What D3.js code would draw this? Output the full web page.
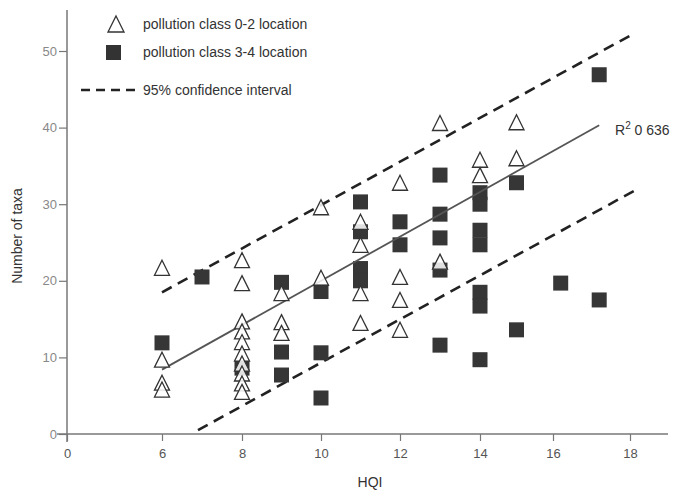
<!DOCTYPE html>
<html><head><meta charset="utf-8">
<script src="https://cdn.jsdelivr.net/npm/d3@7"></script>
<style>body{margin:0;background:#fff}svg{display:block}</style>
</head><body><svg id="c" width="682" height="491"></svg>
<script>
// ---- data ----
const xTicks = [0, 6, 8, 10, 12, 14, 16, 18];
const yTicks = [0, 10, 20, 30, 40, 50];
// pollution class 0-2 (triangles): [HQI, taxa]
const class02 = [
  [6,21.7],[6,9.7],[6,6.7],[6,5.8],
  [8,22.7],[8,19.7],[8,14.7],[8,13.4],[8,12.0],[8,10.5],[8,9.2],[8,7.9],[8,6.6],[8,5.5],
  [9,18.4],[9,14.6],[9,13.2],
  [10,29.6],[10,20.4],
  [11,27.7],[11,24.7],[11,18.4],[11,14.5],
  [12,32.8],[12,20.5],[12,17.5],[12,13.6],
  [13,40.6],[13,22.5],
  [14,35.8],[14,33.8],
  [15,40.7],[15,36.0]
];
// pollution class 3-4 (squares)
const class34 = [
  [6,11.9],[7,20.5],[8,8.6],
  [9,19.8],[9,10.7],[9,7.7],
  [10,18.6],[10,10.6],[10,4.7],
  [11,30.3],[11,26.4],[11,21.6],[11,20.0],
  [12,27.7],[12,24.7],
  [13,33.8],[13,28.7],[13,25.6],[13,21.4],[13,11.6],
  [14,31.5],[14,30.0],[14,26.6],[14,24.7],[14,18.5],[14,16.7],[14,9.7],
  [15,32.8],[15,13.6],
  [16.2,19.7],[17.2,17.5],[17.2,46.9]
];
const regression = [[6,8.4],[17.2,40.3]];
const upperCI = [[6,18.5],[18,52]];
const lowerCI = [[6.9,0.5],[18.2,32]];
const r2Label = "0 636";
const legendItems = ["pollution class 0-2 location","pollution class 3-4 location","95% confidence interval"];

// ---- chart ----
const svg = d3.select("#c");
const font = "Liberation Sans, Arial, Helvetica, sans-serif";
const x = d3.scaleLinear().domain(xTicks).range([67,162,242,321,400,480,553,630]);
const y = d3.scaleLinear().domain([0,50]).range([434,51]);

// axes
const axisColor = "#777";
const gx = svg.append("g").attr("transform", `translate(0,${y(0)})`)
  .call(d3.axisBottom(x).tickValues(xTicks).tickSize(7).tickPadding(8).tickFormat(d3.format("d")));
gx.select(".domain").remove();
svg.append("line").attr("x1",57).attr("x2",668).attr("y1",y(0)).attr("y2",y(0))
  .attr("stroke",axisColor).attr("stroke-width",1.5);
const gy = svg.append("g").attr("transform", `translate(${x(0)},0)`)
  .call(d3.axisLeft(y).tickValues(yTicks).tickSize(8).tickPadding(2).tickFormat(d3.format("d")));
gy.select(".domain").remove();
svg.append("line").attr("x1",x(0)).attr("x2",x(0)).attr("y1",10).attr("y2",442)
  .attr("stroke",axisColor).attr("stroke-width",1.5);
[gx,gy].forEach(g=>{
  g.selectAll(".tick line").attr("stroke",axisColor).attr("stroke-width",1.2);
  g.selectAll(".tick text").attr("fill","#888").attr("font-family",font).attr("font-size",13);
});
gx.selectAll(".tick text").attr("fill","#555");

svg.append("text").attr("x",370).attr("y",487).attr("text-anchor","middle")
  .attr("font-family",font).attr("font-size",14).attr("fill","#333").text("HQI");
svg.append("text").attr("transform","translate(22,236) rotate(-90)").attr("text-anchor","middle")
  .attr("font-family",font).attr("font-size",14).attr("fill","#333").text("Number of taxa");

// lines
const line = d3.line().x(d=>x(d[0])).y(d=>y(d[1]));
svg.append("path").datum(upperCI).attr("d",line).attr("fill","none")
  .attr("stroke","#222").attr("stroke-width",2.6).attr("stroke-dasharray","11,7");
svg.append("path").datum(lowerCI).attr("d",line).attr("fill","none")
  .attr("stroke","#222").attr("stroke-width",2.6).attr("stroke-dasharray","11,7");

// squares
const s = 15;
svg.append("g").selectAll("rect").data(class34).join("rect")
  .attr("x",d=>x(d[0])-s/2).attr("y",d=>y(d[1])-s/2).attr("width",s).attr("height",s)
  .attr("fill","#363636");

// regression line
svg.append("path").datum(regression).attr("d",line).attr("fill","none")
  .attr("stroke","#555").attr("stroke-width",1.8);

// triangles
const tri = (cx,cy,w,h)=>`M${cx},${cy-h/2}L${cx+w/2},${cy+h/2}L${cx-w/2},${cy+h/2}Z`;
svg.append("g").selectAll("path").data(class02).join("path")
  .attr("d",d=>tri(x(d[0]),y(d[1]),15,15))
  .attr("fill","#fff").attr("fill-opacity",0.85).attr("stroke","#333").attr("stroke-width",1.3);

// R2 label
const r2 = svg.append("text").attr("x",615).attr("y",135).attr("font-family",font)
  .attr("font-size",14).attr("fill","#333");
r2.append("tspan").text("R");
r2.append("tspan").attr("dy",-6).attr("font-size",10).text("2");
r2.append("tspan").attr("dy",6).text(" " + r2Label);

// legend
const lg = svg.append("g");
lg.append("path").attr("d",tri(116,24,16,16)).attr("fill","#fff").attr("stroke","#333").attr("stroke-width",1.3);
lg.append("rect").attr("x",106).attr("y",45).attr("width",15).attr("height",15).attr("fill","#333");
lg.append("line").attr("x1",81).attr("x2",135).attr("y1",90).attr("y2",90)
  .attr("stroke","#222").attr("stroke-width",2.4).attr("stroke-dasharray","9,6");
legendItems.forEach((t,i)=>{
  lg.append("text").attr("x",143).attr("y",[29,57,95][i]).attr("font-family",font)
    .attr("font-size",14).attr("fill","#333").text(t);
});
</script></body></html>
